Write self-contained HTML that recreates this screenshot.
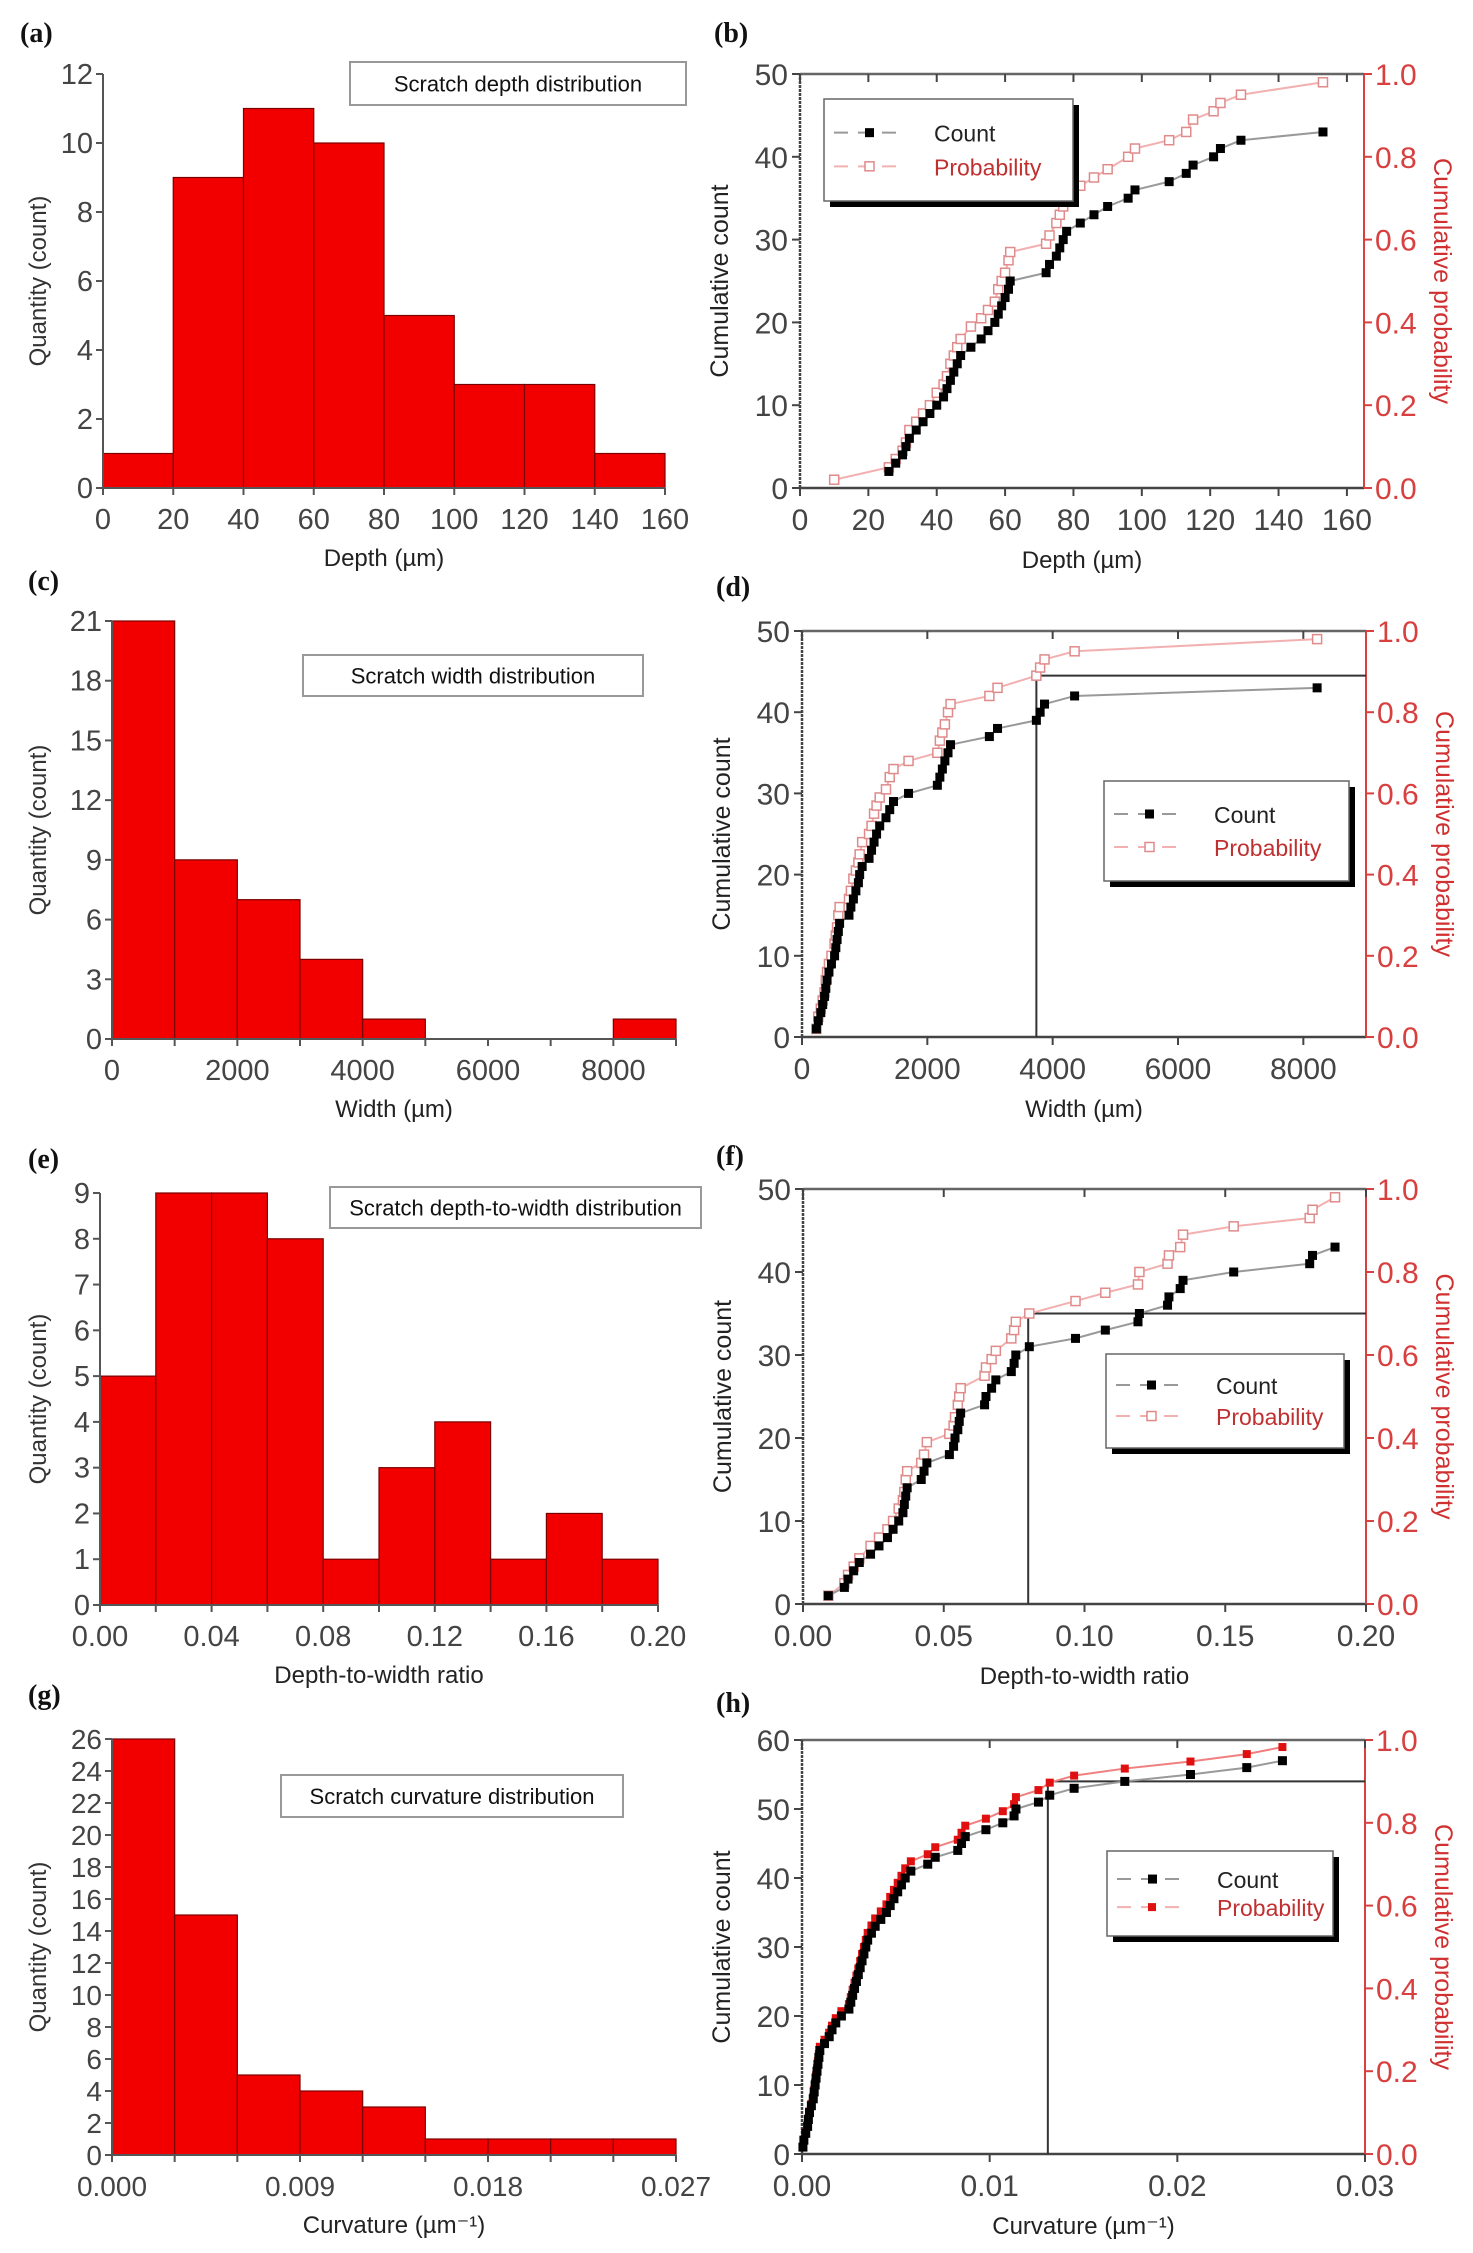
<!DOCTYPE html>
<html><head><meta charset="utf-8"><style>
html,body{margin:0;padding:0;background:#fff;}
svg{display:block;font-family:"Liberation Sans",Arial,sans-serif;}
</style></head><body>
<svg id="fig" width="1473" height="2253" viewBox="0 0 1473 2253" xmlns="http://www.w3.org/2000/svg"></svg>
<script>
// ---------- data ----------
const depthBinEdges=[0,20,40,60,80,100,120,140,160];
const depthCounts=[1,9,11,10,5,3,3,1];
const widthBinEdges=[0,1000,2000,3000,4000,5000,6000,7000,8000,9000];
const widthCounts=[21,9,7,4,1,0,0,0,1];
const ratioBinEdges=[0,0.02,0.04,0.06,0.08,0.10,0.12,0.14,0.16,0.18,0.20];
const ratioCounts=[5,9,9,8,1,3,4,1,2,1];
const curvBinEdges=[0,0.003,0.006,0.009,0.012,0.015,0.018,0.021,0.024,0.027];
const curvCounts=[26,15,5,4,3,1,1,1,1];

const cum43=[1,2,3,4,5,6,7,8,9,10,11,12,13,14,15,16,17,18,19,20,21,22,23,24,25,26,27,28,29,30,31,32,33,34,35,36,37,38,39,40,41,42,43];
const prob43=[.02,.05,.07,.09,.11,.14,.16,.18,.20,.23,.25,.27,.30,.32,.34,.36,.39,.41,.43,.45,.48,.50,.52,.55,.57,.59,.61,.64,.66,.68,.70,.73,.75,.77,.80,.82,.84,.86,.89,.91,.93,.95,.98];
const depthSorted=[10,26,28,30,31,32,34,36,38,40,42,43,44,45,46,47,50,53,55,57,58,59,60,61,61.5,72,73,75,76,77,78,82,86,90,96,98,108,113,115,121,123,129,153];
const widthSorted=[230,260,300,330,360,380,400,430,470,520,540,560,580,600,750,780,820,860,900,920,960,1070,1110,1150,1190,1240,1340,1400,1460,1700,2160,2200,2240,2280,2330,2370,2990,3120,3740,3800,3870,4350,8220];
const ratioSorted=[.009,.0147,.016,.018,.02,.024,.027,.030,.032,.034,.0355,.036,.0365,.037,.042,.043,.044,.052,.0535,.054,.055,.0555,.056,.0645,.065,.067,.0685,.074,.075,.0756,.0804,.0968,.1074,.119,.1195,.1295,.13,.134,.135,.153,.180,.181,.189];
const cum57=[1,2,3,4,5,6,7,8,9,10,11,12,13,14,15,16,17,18,19,20,21,22,23,24,25,26,27,28,29,30,31,32,33,34,35,36,37,38,39,40,41,42,43,44,45,46,47,48,49,50,51,52,53,54,55,56,57];
const prob57=[.017,.034,.052,.069,.086,.103,.121,.138,.155,.172,.190,.207,.224,.241,.259,.276,.293,.310,.328,.345,.362,.379,.397,.414,.431,.448,.466,.483,.5,.517,.534,.552,.569,.586,.603,.621,.638,.655,.672,.690,.707,.724,.741,.759,.776,.793,.810,.828,.845,.862,.879,.897,.914,.931,.948,.966,.983];
const curvSorted=[.00005,.0001,.0002,.0003,.00034,.0004,.0005,.0006,.00065,.0007,.00075,.0008,.00085,.0009,.00095,.0012,.00145,.0016,.0018,.0021,.0025,.0026,.0027,.0028,.0029,.003,.0031,.0032,.0033,.0034,.0035,.0037,.0039,.0042,.0045,.0047,.0049,.0051,.0053,.0055,.0058,.0067,.0071,.0083,.0085,.0087,.0098,.0107,.0113,.0114,.0126,.0132,.0145,.0172,.0207,.0237,.0256];

const depthTicks=[0,20,40,60,80,100,120,140,160];
const widthTicks=[0,2000,4000,6000,8000];
const ratioTicksE=[0,0.04,0.08,0.12,0.16,0.20];
const ratioTicksF=[0,0.05,0.10,0.15,0.20];
const curvTicksG=[0,0.009,0.018,0.027];
const curvTicksH=[0,0.01,0.02,0.03];
const probTicks=[0,0.2,0.4,0.6,0.8,1.0];

// ---------- helpers ----------
const NS='http://www.w3.org/2000/svg';
const svg=document.getElementById('fig');
function el(tag,attrs,parent,text){const e=document.createElementNS(NS,tag);for(const k in attrs)e.setAttribute(k,attrs[k]);if(text!==undefined)e.textContent=text;(parent||svg).appendChild(e);return e;}
function scale(d0,d1,r0,r1){return v=>r0+(v-d0)/(d1-d0)*(r1-r0);}

function panelLabel(txt,x,y,name){
  const t=el('text',{x:x,y:y,'font-family':'Liberation Serif,serif','font-weight':'bold','font-size':28,fill:'#111'},svg,txt);
  
  
}

function hist(cfg){
  const g=el('g',{});
  
  
  const sx=scale(cfg.xmin,cfg.xmax,cfg.x0,cfg.x1), sy=scale(0,cfg.ymax,cfg.y0,cfg.y1);
  for(let i=0;i<cfg.counts.length;i++){
    if(cfg.counts[i]<=0) continue;
    const xa=sx(cfg.edges[i]), xb=sx(cfg.edges[i+1]), yt=sy(cfg.counts[i]);
    const r=el('rect',{x:xa,y:yt,width:xb-xa,height:cfg.y0-yt,fill:'#f20000',stroke:'#7a0000','stroke-width':1.2},g);
    
    
  }
  el('line',{x1:cfg.x0,y1:cfg.y0,x2:cfg.x1,y2:cfg.y0,stroke:'#555','stroke-width':2},g);
  el('line',{x1:cfg.x0,y1:cfg.y0,x2:cfg.x0,y2:cfg.y1,stroke:'#555','stroke-width':2},g);
  cfg.yticks.forEach(v=>{const y=sy(v);
    el('line',{x1:cfg.x0-7,y1:y,x2:cfg.x0,y2:y,stroke:'#555','stroke-width':2},g);
    const t=el('text',{x:cfg.x0-10,y:y+10,'text-anchor':'end','font-size':cfg.fs||29,fill:'#444'},g,String(v));
    
    
  });
  cfg.edges.forEach(v=>{const x=sx(v);el('line',{x1:x,y1:cfg.y0,x2:x,y2:cfg.y0+7,stroke:'#555','stroke-width':2},g);});
  cfg.xticks.forEach((v,i)=>{const x=sx(v);
    const t=el('text',{x:x,y:cfg.y0+41,'text-anchor':'middle','font-size':cfg.fs||29,fill:'#444'},g,cfg.xfmt(v));
    
    
  });
  const xt=el('text',{x:(cfg.x0+cfg.x1)/2,y:cfg.y0+78,'text-anchor':'middle','font-size':24,fill:'#222'},g,cfg.xtitle);
  
  
  const cy=(cfg.y0+cfg.y1)/2;
  const yt=el('text',{x:0,y:0,transform:`translate(${cfg.ytx},${cy}) rotate(-90)`,'text-anchor':'middle','font-size':24,fill:'#333'},g,'Quantity (count)');
  
  
  const b=cfg.box;
  const bx=el('rect',{x:b[0],y:b[1],width:b[2]-b[0],height:b[3]-b[1],fill:'#fff',stroke:'#999','stroke-width':2},g);
  
  
  const tt=el('text',{x:(b[0]+b[2])/2,y:(b[1]+b[3])/2+8,'text-anchor':'middle','font-size':22,fill:'#111'},g,cfg.title);
  
  
}

function cum(cfg){
  const g=el('g',{});
  
  
  const sx=scale(cfg.xmin,cfg.xmax,cfg.x0,cfg.x1), sy=scale(0,cfg.ymax,cfg.y0,cfg.y1), sp=scale(0,1,cfg.y0,cfg.y1);
  el('line',{x1:cfg.x0,y1:cfg.y1,x2:cfg.x1,y2:cfg.y1,stroke:'#666','stroke-width':2.5},g);
  el('line',{x1:cfg.x0,y1:cfg.y0,x2:cfg.x1,y2:cfg.y0,stroke:'#444','stroke-width':2.5},g);
  el('line',{x1:cfg.x0,y1:cfg.y0,x2:cfg.x0,y2:cfg.y1,stroke:'#444','stroke-width':2.5,'stroke-dasharray':'3 1'},g);
  el('line',{x1:cfg.x1,y1:cfg.y0,x2:cfg.x1,y2:cfg.y1,stroke:'#d84040','stroke-width':2},g);
  for(let v=0;v<=cfg.ymax;v+=10){const y=sy(v);
    el('line',{x1:cfg.x0-8,y1:y,x2:cfg.x0,y2:y,stroke:'#444','stroke-width':2},g);
    const t=el('text',{x:cfg.x0-12,y:y+11,'text-anchor':'end','font-size':30,fill:'#444'},g,String(v));
    
    
  }
  probTicks.forEach(v=>{const y=sp(v);
    el('line',{x1:cfg.x1,y1:y,x2:cfg.x1+8,y2:y,stroke:'#d84040','stroke-width':2},g);
    const t=el('text',{x:cfg.x1+11,y:y+11,'font-size':30,fill:'#d84040'},g,v.toFixed(1));
    
    
  });
  cfg.xticks.forEach(v=>{const x=sx(v);
    el('line',{x1:x,y1:cfg.y0,x2:x,y2:cfg.y0+8,stroke:'#444','stroke-width':2},g);
    el('line',{x1:x,y1:cfg.y1,x2:x,y2:cfg.y1+8,stroke:'#444','stroke-width':2},g);
    const t=el('text',{x:x,y:cfg.y0+42,'text-anchor':'middle','font-size':30,fill:'#444'},g,cfg.xfmt(v));
    
    
  });
  if(cfg.refX!==undefined){
    const rx=sx(cfg.refX), ry=sy(cfg.refY);
    const l1=el('line',{x1:rx,y1:cfg.y0,x2:rx,y2:ry,stroke:'#333','stroke-width':2},g);
    
    
    const l2=el('line',{x1:rx,y1:ry,x2:cfg.x1,y2:ry,stroke:'#333','stroke-width':2},g);
    
    
  }
  const pp=cfg.xs.map((x,i)=>sx(x)+','+sp(cfg.probs[i])).join(' ');
  const pl=el('polyline',{points:pp,fill:'none',stroke:cfg.filledProb?'#f08080':'#f2b0b0','stroke-width':2},g);
  
  
  cfg.xs.forEach((x,i)=>{
    const m=cfg.filledProb?el('rect',{x:sx(x)-4,y:sp(cfg.probs[i])-4,width:8,height:8,fill:'#e01010'},g)
      :el('rect',{x:sx(x)-4.5,y:sp(cfg.probs[i])-4.5,width:9,height:9,fill:'#fff',stroke:'#e08a8a','stroke-width':1.5},g);
    
    
  });
  const start=cfg.countStart||0;
  const cp=cfg.xs.slice(start).map((x,i)=>sx(x)+','+sy(cfg.counts[i+start])).join(' ');
  const cl=el('polyline',{points:cp,fill:'none',stroke:'#999','stroke-width':2},g);
  
  
  cfg.xs.forEach((x,i)=>{
    if(i<start) return;
    const m=el('rect',{x:sx(x)-4.5,y:sy(cfg.counts[i])-4.5,width:9,height:9,fill:'#000'},g);
    
    
  });
  const xt=el('text',{x:(cfg.x0+cfg.x1)/2,y:cfg.y0+80,'text-anchor':'middle','font-size':24,fill:'#222'},g,cfg.xtitle);
  
  
  const cy=(cfg.y0+cfg.y1)/2;
  const yl=el('text',{x:0,y:0,transform:`translate(${cfg.x0-72},${cy}) rotate(-90)`,'text-anchor':'middle','font-size':25,fill:'#222'},g,'Cumulative count');
  
  
  const yr=el('text',{x:0,y:0,transform:`translate(${cfg.x1+70},${cy}) rotate(90)`,'text-anchor':'middle','font-size':25,fill:'#d03030'},g,'Cumulative probability');
  
  
  const L=cfg.legend;
  el('rect',{x:L[0]+6,y:L[1]+6,width:L[2]-L[0],height:L[3]-L[1],fill:'#000'},g);
  const lb=el('rect',{x:L[0],y:L[1],width:L[2]-L[0],height:L[3]-L[1],fill:'#fff',stroke:'#666','stroke-width':1.5},g);
  
  
  const r1=L[1]+(L[3]-L[1])*0.33, r2=L[1]+(L[3]-L[1])*0.66;
  el('line',{x1:L[0]+10,y1:r1,x2:L[0]+80,y2:r1,stroke:'#999','stroke-width':2,'stroke-dasharray':'14 10'},g);
  el('rect',{x:L[0]+41,y:r1-4.5,width:9,height:9,fill:'#000'},g);
  el('line',{x1:L[0]+10,y1:r2,x2:L[0]+80,y2:r2,stroke:'#f2b0b0','stroke-width':2,'stroke-dasharray':'14 10'},g);
  if(cfg.filledProb) el('rect',{x:L[0]+41,y:r2-4,width:8,height:8,fill:'#e01010'},g);
  else el('rect',{x:L[0]+41,y:r2-4.5,width:9,height:9,fill:'#fff',stroke:'#e08a8a','stroke-width':1.5},g);
  const le1=el('text',{x:L[0]+110,y:r1+9,'font-size':23,fill:'#222'},g,'Count');
  
  
  const le2=el('text',{x:L[0]+110,y:r2+9,'font-size':23,fill:'#c03030'},g,'Probability');
  
  
}

panelLabel('(a)',20,42,'panel-label-a');
panelLabel('(b)',714,42,'panel-label-b');
panelLabel('(c)',28,590,'panel-label-c');
panelLabel('(d)',716,596,'panel-label-d');
panelLabel('(e)',28,1168,'panel-label-e');
panelLabel('(f)',716,1165,'panel-label-f');
panelLabel('(g)',28,1704,'panel-label-g');
panelLabel('(h)',716,1712,'panel-label-h');

hist({name:'depth-histogram',edges:depthBinEdges,counts:depthCounts,xmin:0,xmax:160,x0:103,x1:665,ymax:12,y0:488,y1:74,
  yticks:[0,2,4,6,8,10,12],xticks:depthTicks,xfmt:v=>String(v),xtitle:'Depth (µm)',ytx:46,box:[350,62,686,105],title:'Scratch depth distribution'});
hist({name:'width-histogram',edges:widthBinEdges,counts:widthCounts,xmin:0,xmax:9000,x0:112,x1:676,ymax:21,y0:1039,y1:621,
  yticks:[0,3,6,9,12,15,18,21],xticks:widthTicks,xfmt:v=>String(v),xtitle:'Width (µm)',ytx:46,box:[303,655,643,696],title:'Scratch width distribution'});
hist({name:'ratio-histogram',edges:ratioBinEdges,counts:ratioCounts,xmin:0,xmax:0.2,x0:100,x1:658,ymax:9,y0:1605,y1:1193,
  yticks:[0,1,2,3,4,5,6,7,8,9],xticks:ratioTicksE,xfmt:v=>v.toFixed(2),xtitle:'Depth-to-width ratio',ytx:46,box:[330,1187,701,1228],title:'Scratch depth-to-width distribution'});
hist({name:'curvature-histogram',edges:curvBinEdges,counts:curvCounts,xmin:0,xmax:0.027,x0:112,x1:676,ymax:26,y0:2155,y1:1739,
  yticks:[0,2,4,6,8,10,12,14,16,18,20,22,24,26],xticks:curvTicksG,xfmt:v=>v.toFixed(3),xtitle:'Curvature (µm⁻¹)',ytx:46,box:[281,1775,623,1817],title:'Scratch curvature distribution',fs:28});

cum({name:'depth-cumulative-chart',xs:depthSorted,counts:cum43,probs:prob43,xmin:0,xmax:165,x0:800,x1:1364,ymax:50,y0:488,y1:74,
  xticks:depthTicks,xfmt:v=>String(v),xtitle:'Depth (µm)',legend:[824,99,1073,201],countStart:1});
cum({name:'width-cumulative-chart',xs:widthSorted,counts:cum43,probs:prob43,xmin:0,xmax:9000,x0:802,x1:1366,ymax:50,y0:1037,y1:631,
  xticks:widthTicks,xfmt:v=>String(v),xtitle:'Width (µm)',legend:[1104,781,1349,881],refX:3740,refY:44.5});
cum({name:'ratio-cumulative-chart',xs:ratioSorted,counts:cum43,probs:prob43,xmin:0,xmax:0.2,x0:803,x1:1366,ymax:50,y0:1604,y1:1189,
  xticks:ratioTicksF,xfmt:v=>v.toFixed(2),xtitle:'Depth-to-width ratio',legend:[1106,1354,1344,1448],refX:0.08,refY:35});
cum({name:'curvature-cumulative-chart',xs:curvSorted,counts:cum57,probs:prob57,xmin:0,xmax:0.03,x0:802,x1:1365,ymax:60,y0:2154,y1:1740,
  xticks:curvTicksH,xfmt:v=>v.toFixed(2),xtitle:'Curvature (µm⁻¹)',legend:[1107,1851,1333,1936],refX:0.0131,refY:54,filledProb:true});
</script>
</body></html>
